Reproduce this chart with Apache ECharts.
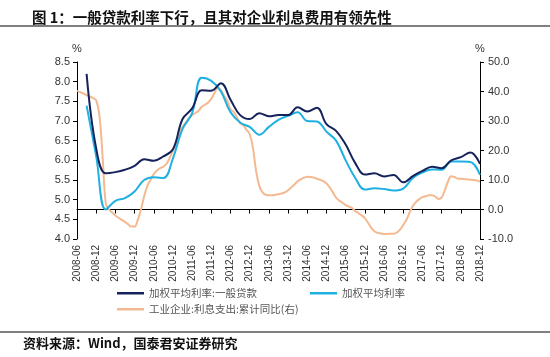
<!DOCTYPE html>
<html><head><meta charset="utf-8">
<script src="https://cdn.jsdelivr.net/npm/echarts@6/dist/echarts.min.js"></script>
<style>html,body{margin:0;padding:0;background:#fff}#c{width:550px;height:357px}</style>
</head><body><div id="c"></div>
<script>
// Quarterly dates for weighted average rates
const qDates = ['2008-09','2008-12',
'2009-03','2009-06','2009-09','2009-12','2010-03','2010-06','2010-09','2010-12',
'2011-03','2011-06','2011-09','2011-12','2012-03','2012-06','2012-09','2012-12',
'2013-03','2013-06','2013-09','2013-12','2014-03','2014-06','2014-09','2014-12',
'2015-03','2015-06','2015-09','2015-12','2016-03','2016-06','2016-09','2016-12',
'2017-03','2017-06','2017-09','2017-12','2018-03','2018-06','2018-09','2018-12'];
// 加权平均利率:一般贷款
const rateGeneral = [8.20,6.30,
5.67,5.70,5.76,5.86,6.03,5.99,6.10,6.28,
7.05,7.32,7.78,7.77,7.96,7.54,7.15,7.05,
7.20,7.12,7.15,7.15,7.35,7.24,7.34,6.92,
6.75,6.40,5.93,5.64,5.67,5.59,5.63,5.44,
5.60,5.73,5.84,5.80,6.00,6.08,6.20,5.91];
// 加权平均利率
const rateAll = [7.39,6.10,
4.75,4.97,5.04,5.21,5.50,5.57,5.55,6.05,
6.80,7.20,8.10,8.02,7.75,7.22,6.96,6.85,
6.65,6.85,7.03,7.13,7.22,7.00,6.99,6.73,
6.50,6.00,5.55,5.26,5.29,5.27,5.23,5.28,
5.55,5.69,5.77,5.76,5.97,5.97,5.96,5.63];
// 工业企业:利息支出:累计同比 (monthly, 2008-06 .. 2018-12)
const interestYoY = [
40.2,39.8,39.3,38.8,38.3,37.8,37.0,
32.0,18.0,2.0,0.0,-1.0,-2.0,-2.8,-3.5,-4.2,-5.0,-5.8,-5.8,
-3.5,0.0,4.5,8.0,10.0,12.0,13.2,14.0,14.5,15.5,17.5,20.0,
22.5,26.0,28.0,29.5,31.0,32.0,32.7,33.5,34.8,35.5,36.3,37.5,
39.5,41.3,40.5,38.5,36.8,34.0,33.0,31.3,29.3,28.5,27.0,25.5,
21.0,13.0,8.0,5.8,5.0,4.8,4.8,5.0,5.2,5.4,5.8,6.5,
7.5,8.5,9.6,10.3,10.8,11.1,11.0,10.8,10.4,10.1,9.6,8.8,
7.5,5.8,4.0,3.0,2.3,1.5,1.0,0.5,-0.6,-1.2,-2.0,-2.9,
-4.5,-6.2,-7.4,-7.9,-8.1,-8.3,-8.3,-8.2,-8.2,-7.8,-6.8,-5.2,
-3.5,-1.0,1.2,2.6,3.5,4.2,4.5,4.8,4.8,4.4,3.6,4.0,
6.5,9.5,11.3,11.0,10.5,10.4,10.3,10.2,10.1,10.0,9.8,9.5];
const seriesNames = ['加权平均利率:一般贷款','加权平均利率','工业企业:利息支出:累计同比(右)'];
const leftTicks = {min:4.0, max:8.5, interval:0.5};
const rightTicks = {min:-10, max:50, interval:10};

// month categories 2008-06 .. 2018-12
const months = [];
for (let y = 2008; y <= 2018; y++) {
  for (let m = 1; m <= 12; m++) {
    if (y === 2008 && m < 6) continue;
    months.push(y + '-' + (m < 10 ? '0' + m : '' + m));
  }
}

const FONT = 'Noto Sans CJK SC';
const lbl = {fontFamily:'Liberation Sans', fontSize:11, color:'#333'};
const legText = {fontFamily:FONT, fontSize:10.5, color:'#555'};
const chart = echarts.init(document.getElementById('c'));
chart.setOption({
  animation:false,
  title:{text:'图 1：一般贷款利率下行，且其对企业利息费用有领先性', left:27, top:5,
    textStyle:{fontFamily:FONT, fontSize:14.5, fontWeight:'bold', color:'#111'}},
  grid:{left:77, right:70, top:62, bottom:118},
  legend:[
    {data:[seriesNames[0]], left:112, top:283, icon:'rect', itemWidth:27, itemHeight:2.5, itemGap:4,
      textStyle:legText},
    {data:[seriesNames[1]], left:305, top:283, icon:'rect', itemWidth:27, itemHeight:2.5,
      textStyle:legText},
    {data:[seriesNames[2]], left:112, top:299, icon:'rect', itemWidth:27, itemHeight:2.5,
      textStyle:legText}
  ],
  xAxis:{type:'category', data:months, boundaryGap:false,
    axisLine:{lineStyle:{color:'#000', width:1}},
    axisTick:{interval:5, length:4, lineStyle:{color:'#000'}},
    axisLabel:{interval:5, rotate:90, margin:6, fontSize:10, fontFamily:'Liberation Sans', color:'#333'},
    splitLine:{show:false}},
  yAxis:[
    {type:'value', min:leftTicks.min, max:leftTicks.max, interval:leftTicks.interval, name:'%', nameGap:8,
      nameTextStyle:lbl,
      axisLine:{show:true, lineStyle:{color:'#000'}}, axisTick:{show:true, length:4, lineStyle:{color:'#000'}},
      axisLabel:Object.assign({formatter:v=>v.toFixed(1), margin:7}, lbl), splitLine:{show:false}},
    {type:'value', min:rightTicks.min, max:rightTicks.max, interval:rightTicks.interval, name:'%', nameGap:8,
      nameTextStyle:lbl,
      axisLine:{show:true, lineStyle:{color:'#000'}}, axisTick:{show:true, length:4, lineStyle:{color:'#000'}},
      axisLabel:Object.assign({formatter:v=>v.toFixed(1), margin:8}, lbl), splitLine:{show:false}}
  ],
  graphic:[
    {type:'line', shape:{x1:0, y1:26, x2:550, y2:26}, style:{stroke:'#000', lineWidth:1.2}},
    {type:'line', shape:{x1:0, y1:332, x2:550, y2:332}, style:{stroke:'#000', lineWidth:1.2}},
    {type:'text', left:23, top:337, style:{text:'资料来源：Wind，国泰君安证券研究',
      font:'bold 13px "Noto Sans CJK SC"', fill:'#111'}}
  ],
  series:[
    {name:seriesNames[0], type:'line', yAxisIndex:0, smooth:0.4, symbol:'none',
      data:qDates.map((d,i)=>[d, rateGeneral[i]]), lineStyle:{color:'#15225b', width:2}, itemStyle:{color:'#15225b'}, z:4},
    {name:seriesNames[1], type:'line', yAxisIndex:0, smooth:0.4, symbol:'none',
      data:qDates.map((d,i)=>[d, rateAll[i]]), lineStyle:{color:'#1fb0e2', width:2}, itemStyle:{color:'#1fb0e2'}, z:3},
    {name:seriesNames[2], type:'line', yAxisIndex:1, smooth:0.4, symbol:'none',
      data:interestYoY, lineStyle:{color:'#f4b990', width:2}, itemStyle:{color:'#f4b990'}, z:2}
  ]
});
</script></body></html>
